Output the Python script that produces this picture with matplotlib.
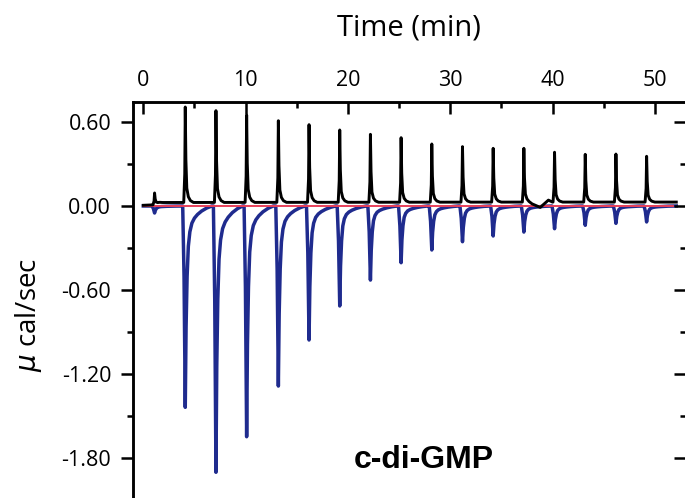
import numpy as np
import matplotlib
matplotlib.use("Agg")
import matplotlib.pyplot as plt
from matplotlib.ticker import MultipleLocator, FormatStrFormatter

plt.rcParams["font.family"] = ["Open Sans", "DejaVu Sans"]
plt.rcParams["mathtext.fontset"] = "dejavusans"

# injection times (min) and peak values (ucal/sec)
inj_times = [1.1, 4.1, 7.1, 10.1, 13.2, 16.2, 19.2, 22.2, 25.2, 28.2,
             31.2, 34.2, 37.2, 40.2, 43.2, 46.2, 49.2]
black_peaks = [0.093, 0.707, 0.681, 0.650, 0.609, 0.581, 0.543, 0.512, 0.488,
               0.443, 0.424, 0.412, 0.412, 0.384, 0.369, 0.371, 0.355]
blue_peaks = [-0.05, -1.438, -1.902, -1.648, -1.286, -0.957, -0.714, -0.529,
              -0.405, -0.314, -0.255, -0.214, -0.186, -0.162, -0.138, -0.124,
              -0.114]

# black trace baseline (drift points incl. small bump near 39 min)
black_base_t = [0.0, 0.9, 1.6, 37.6, 38.8, 39.6, 40.0, 52.1]
black_base_v = [0.005, 0.008, 0.025, 0.028, -0.01, 0.042, 0.028, 0.028]

# shape of one injection peak: time offset (min) vs fraction of peak height
black_shape_dt = [-0.15, -0.05, 0.0, 0.06, 0.15, 0.3, 0.5, 0.8]
black_shape_f = [0.0, 0.3, 1.0, 0.45, 0.15, 0.06, 0.02, 0.0]
blue_shape_dt = [-0.25, -0.12, 0.0, 0.08, 0.18, 0.3, 0.45, 0.65, 0.9, 1.2,
                 1.6, 2.1, 2.6]
blue_shape_f = [0.0, 0.35, 1.0, 0.6, 0.35, 0.2, 0.128, 0.085, 0.06, 0.042,
                0.025, 0.01, 0.0]

red_span = [0.0, 51.8]


def build_trace(t_end, peaks, shape_dt, shape_f, base_t, base_v):
    # baseline knots that sit outside every peak window, plus the peak shapes
    ts, vs = [], []
    for t, v in zip(base_t, base_v):
        inside = any(t0 + shape_dt[0] < t < t0 + shape_dt[-1] for t0 in inj_times)
        if not inside:
            ts.append(t)
            vs.append(v)
    for t0, pk in zip(inj_times, peaks):
        for dt, f in zip(shape_dt, shape_f):
            b = np.interp(t0 + dt, base_t, base_v)
            ts.append(t0 + dt)
            vs.append(b + f * (pk - b))
    order = np.argsort(ts, kind="stable")
    ts = np.array(ts)[order]
    vs = np.array(vs)[order]
    keep = (ts >= 0) & (ts <= t_end)
    return ts[keep], vs[keep]


fig = plt.figure(figsize=(6.85, 4.98), dpi=100)
W, H = 685, 498
left_px, right_px, top_px, bottom_px = 133.3, 686.0, 101.7, 507.0
ax = fig.add_axes([left_px / W, 1 - bottom_px / H,
                   (right_px - left_px) / W, (bottom_px - top_px) / H])

bt, bv = build_trace(52.1, blue_peaks, blue_shape_dt, blue_shape_f,
                     [0.0, 52.1], [0.0, 0.0])
kt, kv = build_trace(52.1, black_peaks, black_shape_dt, black_shape_f,
                     black_base_t, black_base_v)

ax.plot(bt, bv, color="#1f2b8e", lw=2.5, zorder=2)
ax.plot(red_span, [0, 0], color="#e8405a", lw=1.4, zorder=3)
ax.plot(kt, kv, color="black", lw=2.1, zorder=4)

ax.set_xlim(-0.98, 53.05)
ax.set_ylim(-2.15, 0.745)

ax.xaxis.tick_top()
ax.xaxis.set_major_locator(MultipleLocator(10))
ax.xaxis.set_minor_locator(MultipleLocator(5))
ax.yaxis.set_major_locator(MultipleLocator(0.6))
ax.yaxis.set_minor_locator(MultipleLocator(0.3))
ax.yaxis.set_major_formatter(FormatStrFormatter("%.2f"))

ax.tick_params(axis="x", which="major", direction="in", length=8.6, width=1.8,
               labelsize=15.5, pad=8.0)
ax.tick_params(axis="x", which="minor", direction="in", length=4.3, width=1.8)
ax.tick_params(axis="y", which="major", direction="out", length=8.4, width=1.8,
               labelsize=15.5, pad=7.5)
ax.tick_params(axis="y", which="minor", direction="out", length=4.3, width=1.8)
for s in ax.spines.values():
    s.set_linewidth(1.8)

ax2 = ax.twinx()
ax2.set_ylim(ax.get_ylim())
ax2.yaxis.set_major_locator(MultipleLocator(0.6))
ax2.yaxis.set_minor_locator(MultipleLocator(0.3))
ax2.tick_params(axis="y", which="major", direction="in", length=8.6, width=1.8,
                labelright=False)
ax2.tick_params(axis="y", which="minor", direction="in", length=4.3, width=1.8)
for s in ax2.spines.values():
    s.set_linewidth(1.8)

fig.text(408.5 / W, 1 - 28 / H, "Time (min)", fontsize=21,
         ha="center", va="center")
fig.text(28 / W, 1 - 315 / H, r"$\mu$ cal/sec", fontsize=20,
         rotation=90, ha="center", va="center")
fig.text(424 / W, 1 - 460 / H, "c-di-GMP", fontsize=23, fontweight="bold",
         family="Liberation Sans", ha="center", va="center")

fig.savefig("out.png", dpi=100)
